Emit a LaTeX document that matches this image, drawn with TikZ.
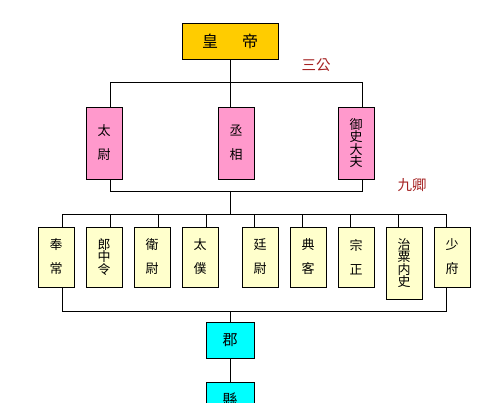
\documentclass[tikz,border=0pt]{standalone}
\usepackage{fontspec}
\newfontfamily\cjk{Noto Sans CJK TC}
\usepackage{tikz}

\begin{document}
\begin{tikzpicture}[x=1pt,y=-1pt]
            \tikzset{box/.style = {shape=rectangle,draw,line width=0.8pt,inner sep=0pt,minimum width=36pt,align=center,font=\cjk\fontsize{13}{12.5}\selectfont}}
            \tikzset{edge/.style = {line width=0.8pt}}
            \tikzset{tag/.style = {text={rgb,255:red,165;green,35;blue,35},font=\cjk\fontsize{14.5}{16}\selectfont}}
            \useasboundingbox (0,0) rectangle (497,403);
            \clip (0,0) rectangle (497,403);

            \node[box,fill={rgb,255:red,255;green,204;blue,0},minimum width=96pt,minimum height=36pt,font=\cjk\fontsize{16}{18}\selectfont] (e) at (230,41) {皇\hspace{24pt}帝};

            \node[box,fill={rgb,255:red,255;green,153;blue,204},minimum height=72pt] (a) at (104,143) {太\\[11.5pt]尉};
            \node[box,fill={rgb,255:red,255;green,153;blue,204},minimum height=72pt] (b) at (236,143) {丞\\[11.5pt]相};
            \node[box,fill={rgb,255:red,255;green,153;blue,204},minimum height=72pt] (c) at (356,143) {御\\史\\大\\夫};

            \node[box,fill={rgb,255:red,255;green,255;blue,204},minimum height=60pt] (n1) at (56,257) {奉\\[11.5pt]常};
            \node[box,fill={rgb,255:red,255;green,255;blue,204},minimum height=60pt] (n2) at (104,257) {郎\\中\\令};
            \node[box,fill={rgb,255:red,255;green,255;blue,204},minimum height=60pt] (n3) at (152,257) {衛\\[11.5pt]尉};
            \node[box,fill={rgb,255:red,255;green,255;blue,204},minimum height=60pt] (n4) at (200,257) {太\\[11.5pt]僕};
            \node[box,fill={rgb,255:red,255;green,255;blue,204},minimum height=60pt] (n5) at (260,257) {廷\\[11.5pt]尉};
            \node[box,fill={rgb,255:red,255;green,255;blue,204},minimum height=60pt] (n6) at (308,257) {典\\[11.5pt]客};
            \node[box,fill={rgb,255:red,255;green,255;blue,204},minimum height=60pt] (n7) at (356,257) {宗\\[11.5pt]正};
            \node[box,fill={rgb,255:red,255;green,255;blue,204},minimum height=72pt] (n8) at (404,263) {治\\粟\\内\\史};
            \node[box,fill={rgb,255:red,255;green,255;blue,204},minimum height=60pt] (n9) at (452,257) {少\\[11.5pt]府};

            \node[box,fill={rgb,255:red,0;green,255;blue,255},minimum width=48pt,minimum height=36pt,font=\cjk\fontsize{15}{18}\selectfont] (j) at (230,340) {郡};
            \node[box,fill={rgb,255:red,0;green,255;blue,255},minimum width=48pt,minimum height=36pt,font=\cjk\fontsize{15}{18}\selectfont] (x) at (230,400) {縣};

            \node[tag] (s) at (316,65) {三公};
            \node[tag] (k) at (412,185) {九卿};

            \coordinate (m1) at (230,191);
            \coordinate (m2) at (230,215);
            \coordinate (m3) at (230,311);

            \draw[edge] (e.south) to ([xshift=-6pt]b.north);
            \draw[edge] ([xshift=6pt]a.north) -- ++(0,-24) -| ([xshift=6pt]c.north);
            \draw[edge] ([xshift=6pt]a.south) -- ++(0,12) -| ([xshift=6pt]c.south);
            \draw[edge] (m1) to (m2);

            \draw[edge] ([xshift=6pt]n1.north) -- ++(0,-12) -| ([xshift=-6pt]n9.north);
            \draw[edge] ([xshift=6pt]n2.north) -- ++(0,-12);
            \draw[edge] ([xshift=6pt]n3.north) -- ++(0,-12);
            \draw[edge] ([xshift=6pt]n4.north) -- ++(0,-12);
            \draw[edge] ([xshift=-6pt]n5.north) -- ++(0,-12);
            \draw[edge] ([xshift=-6pt]n6.north) -- ++(0,-12);
            \draw[edge] ([xshift=-6pt]n7.north) -- ++(0,-12);
            \draw[edge] ([xshift=-6pt]n8.north) -- ++(0,-12);
            \draw[edge] ([xshift=6pt]n1.south) -- ++(0,24) -| ([xshift=-6pt]n9.south);

            \draw[edge] (m3) to (j);
            \draw[edge] (j) to (x);
        \end{tikzpicture}
\end{document}
